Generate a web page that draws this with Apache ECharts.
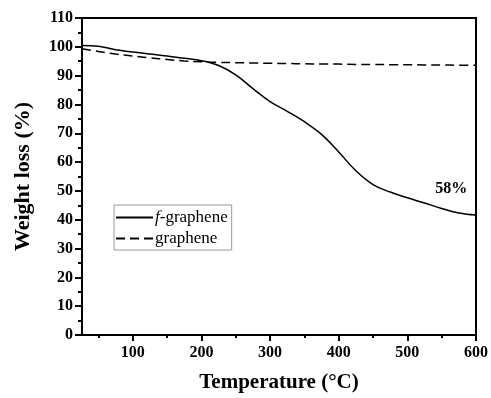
<!DOCTYPE html>
<html>
<head>
<meta charset="utf-8">
<script src="https://cdn.jsdelivr.net/npm/echarts@6/dist/echarts.min.js"></script>
<style>
  html, body { margin: 0; padding: 0; background: #fff; }
  #chart { width: 491px; height: 398px; }
</style>
</head>
<body>
<div id="chart"></div>
<script>
// TGA curves
const temps = [26, 50, 75, 100, 125, 150, 175, 200, 225, 250, 275, 300, 325, 350, 375, 400, 425, 450, 475, 500, 525, 550, 575, 600];
const fGraphene = [100.5, 100.2, 99.0, 98.2, 97.5, 96.8, 96.0, 95.2, 93.5, 90.3, 85.5, 81.0, 77.6, 74.0, 69.6, 63.5, 57.0, 52.2, 49.6, 47.6, 45.8, 43.9, 42.3, 41.6];
const graphene = [99.3, 98.4, 97.5, 96.8, 96.2, 95.6, 95.1, 94.8, 94.6, 94.5, 94.4, 94.3, 94.2, 94.1, 94.0, 94.0, 93.9, 93.9, 93.8, 93.8, 93.7, 93.7, 93.6, 93.6];
const seriesNames = ['f-graphene', 'graphene'];
const xMajorTicks = [100, 200, 300, 400, 500, 600];
const xMinorTicks = [50, 150, 250, 350, 450, 550];
const residueLabel = '58%';

const FONT = '"Liberation Serif", "DejaVu Serif", serif';
const pairs = (ys) => temps.map((t, i) => [t, ys[i]]);

const chart = echarts.init(document.getElementById('chart'), null, { renderer: 'canvas' });

const option = {
  animation: false,
  backgroundColor: '#fff',
  grid: {
    left: 82, right: 13, top: 18, bottom: 59,
    show: true, borderColor: '#000', borderWidth: 2, backgroundColor: 'transparent'
  },
  legend: {
    orient: 'vertical',
    left: 114, top: 205,
    padding: [4, 4, 3, 1],
    itemGap: 4,
    itemWidth: 37,
    itemHeight: 14,
    borderColor: '#999',
    borderWidth: 1,
    data: seriesNames,
    itemStyle: { opacity: 0 },
    formatter: (name) => name === 'f-graphene' ? '{i|f}-graphene' : name,
    textStyle: {
      fontFamily: FONT, fontSize: 17, color: '#000', padding: [0, 0, 0, -3],
      rich: { i: { fontFamily: FONT, fontSize: 17, fontStyle: 'italic', color: '#000' } }
    }
  },
  xAxis: [
    {
      type: 'value', min: 26, max: 600,
      name: 'Temperature (°C)', nameLocation: 'middle', nameGap: 37,
      nameTextStyle: { fontFamily: FONT, fontSize: 21, fontWeight: 'bold', color: '#000' },
      axisLine: { show: true, lineStyle: { color: '#000', width: 2 } },
      axisTick: { show: true, inside: false, length: 6, lineStyle: { color: '#000', width: 2 }, customValues: xMajorTicks },
      axisLabel: { fontFamily: FONT, fontSize: 16, fontWeight: 'bold', color: '#000', margin: 10, customValues: xMajorTicks },
      splitLine: { show: false }
    },
    {
      type: 'value', min: 26, max: 600, position: 'bottom',
      axisLine: { show: false },
      axisTick: { show: true, inside: false, length: 3, lineStyle: { color: '#000', width: 2 }, customValues: xMinorTicks },
      axisLabel: { show: false },
      splitLine: { show: false }
    }
  ],
  yAxis: {
    type: 'value', min: 0, max: 110, interval: 10,
    name: 'Weight loss (%)', nameLocation: 'middle', nameGap: 48,
    nameTextStyle: { fontFamily: FONT, fontSize: 22, fontWeight: 'bold', color: '#000' },
    axisLine: { show: true, lineStyle: { color: '#000', width: 2 } },
    axisTick: { show: true, inside: false, length: 7, lineStyle: { color: '#000', width: 2 } },
    minorTick: { show: true, splitNumber: 2, length: 4, lineStyle: { color: '#000', width: 2 } },
    axisLabel: { fontFamily: FONT, fontSize: 16, fontWeight: 'bold', color: '#000', margin: 9 },
    splitLine: { show: false }
  },
  series: [
    {
      name: seriesNames[0], type: 'line', xAxisIndex: 0,
      data: pairs(fGraphene), smooth: 0.4, symbol: 'none',
      lineStyle: { color: '#000', width: 1.5, type: 'solid' },
      itemStyle: { color: '#000' },
      markPoint: {
        symbol: 'circle',
        symbolSize: 1,
        itemStyle: { color: 'rgba(0,0,0,0)' },
        data: [{ coord: [564, 50.7], value: residueLabel }],
        label: { show: true, position: 'inside', formatter: residueLabel, fontFamily: FONT, fontSize: 16, fontWeight: 'bold', color: '#000' }
      }
    },
    {
      name: seriesNames[1], type: 'line', xAxisIndex: 0,
      data: pairs(graphene), smooth: 0.4, symbol: 'none',
      lineStyle: { color: '#000', width: 1.5, type: [9, 5] },
      itemStyle: { color: '#000' }
    }
  ]
};

chart.setOption(option);
</script>
</body>
</html>
